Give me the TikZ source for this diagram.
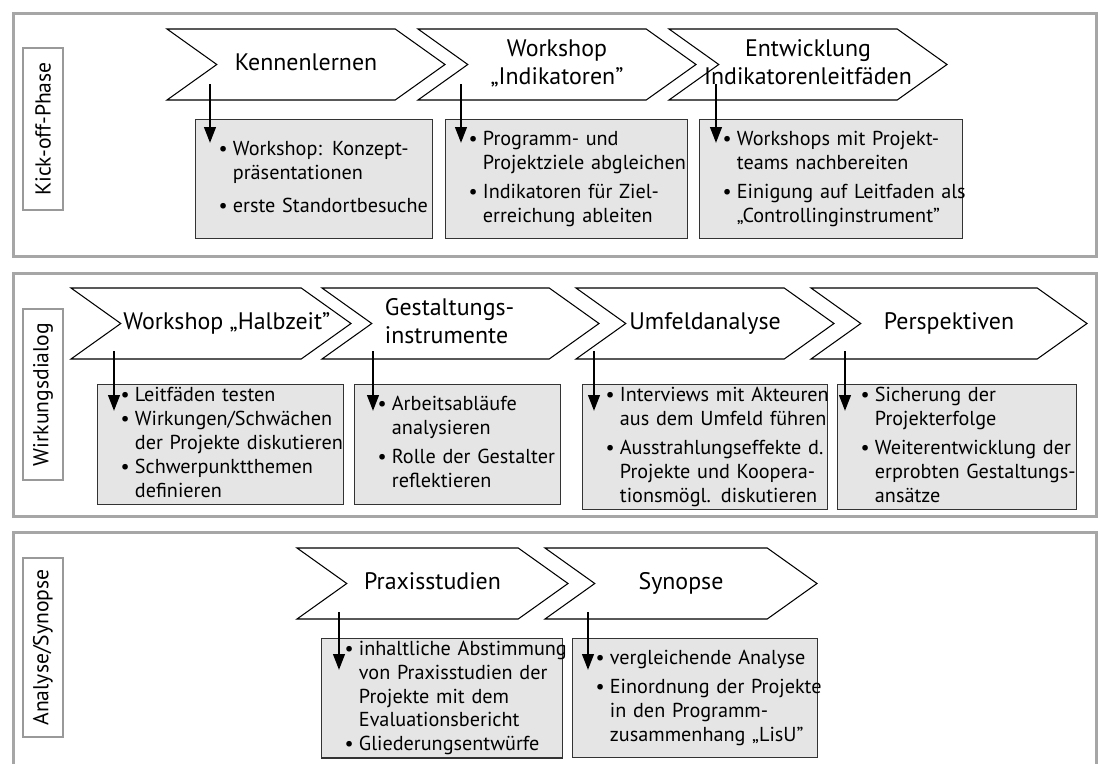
\documentclass[tikz,border=0pt]{standalone}
\usepackage{fontspec}
\setmainfont{PT Sans}
\usepackage{tikz}
\usetikzlibrary{arrows.meta,shapes.symbols,calc,positioning}

\newcommand{\pxu}{0.02cm}
\newlength{\einzug}
\setlength{\einzug}{0.46cm}
\newcommand{\liste}[1]{\begin{tabular}{@{\hspace{\einzug}}l@{\hspace{3pt}}l@{}}#1\end{tabular}}
\newcommand{\titel}[1]{\makebox[0pt]{\begin{tabular}{@{}c@{}}#1\end{tabular}}}

\begin{document}
\begin{tikzpicture}[x=0.02cm,y=-0.02cm,
rahmen/.style={draw=black!35, line width=1.7pt, anchor=north west, inner sep=0pt},
phase/.style={draw=black!40, line width=1pt, fill=white, rotate=90, minimum height=40*\pxu, inner sep=0pt, font=\fontsize{12.3}{15}\selectfont},
etappe/.style={signal, signal to=east, signal from=west, signal pointer angle=71, draw=black, line width=0.6pt, fill=white, minimum height=71*\pxu, inner sep=0pt, font=\fontsize{13.6}{16}\selectfont},
inhalt/.style={draw=black!80, line width=0.6pt, fill=black!10, anchor=north west, inner sep=0pt, align=left, font=\fontsize{11.5}{13.6}\selectfont},
pfeil/.style={-{Triangle[length=9pt,width=6.5pt]}, line width=1.4pt}]
\clip (0,0) rectangle (1100,764);

% Rahmen der drei Phasen
\node[rahmen, minimum width=1083*\pxu, minimum height=243*\pxu] (p1) at (12,12) {};
\node[rahmen, minimum width=1083*\pxu, minimum height=243*\pxu] (p2) at (12,272) {};
\node[rahmen, minimum width=1083*\pxu, minimum height=300*\pxu] (p3) at (12,531) {};

\node[phase, minimum width=162*\pxu] (ph1) at (43,129) {Kick-off-Phase};
\node[phase, minimum width=171*\pxu] (ph2) at (43,394.5) {Wirkungsdialog};
\node[phase, minimum width=179*\pxu] (ph3) at (43,647.5) {Analyse/Synopse};

% Kick-off-Phase
\node[etappe, minimum width=278*\pxu] (k1) at (306,64.5) {\titel{Kennenlernen}};
\node[etappe, minimum width=278*\pxu] (k2) at (557,64.5) {\titel{Workshop\\„Indikatoren”}};
\node[etappe, minimum width=278*\pxu] (k3) at (808,64.5) {\titel{Entwicklung\\Indikatorenleitfäden}};

\node[inhalt, minimum width=237*\pxu, minimum height=119*\pxu, text width=237*\pxu] (b11) at (195,119)
  {\liste{• & Workshop: Konzept-\\ & präsentationen\\[5pt] • & erste Standortbesuche}};
\node[inhalt, minimum width=242*\pxu, minimum height=119*\pxu, text width=242*\pxu] (b12) at (445,119)
  {\liste{• & Programm- und\\ & Projektziele abgleichen\\[3pt] • & Indikatoren für Ziel-\\ & erreichung ableiten}};
\node[inhalt, minimum width=263*\pxu, minimum height=119*\pxu, text width=263*\pxu] (b13) at (699,119)
  {\liste{• & Workshops mit Projekt-\\ & teams nachbereiten\\[3pt] • & Einigung auf Leitfaden als\\ & „Controllinginstrument”}};

% Wirkungsdialog
\node[etappe, minimum width=280*\pxu] (w1) at (211,323.5) {\titel{\hspace*{18pt}Workshop „Halbzeit”}};
\node[etappe, minimum width=277*\pxu] (w2) at (460.5,323.5)
  {\makebox[0pt][l]{\hspace*{-43pt}\begin{tabular}{@{}l@{}}Gestaltungs-\\instrumente\end{tabular}}};
\node[etappe, minimum width=258*\pxu] (w3) at (705,323.5) {\titel{Umfeldanalyse}};
\node[etappe, minimum width=276*\pxu] (w4) at (949,323.5) {\titel{Perspektiven}};

\node[inhalt, minimum width=246*\pxu, minimum height=120*\pxu, text width=246*\pxu] (b21) at (97,384)
  {\liste{• & Leitfäden testen\\ • & Wirkungen/Schwächen\\ & der Projekte diskutieren\\ • & Schwerpunktthemen\\ & definieren}};
\node[inhalt, minimum width=206*\pxu, minimum height=120*\pxu, text width=206*\pxu] (b22) at (354,384)
  {\liste{• & Arbeitsabläufe\\ & analysieren\\[3pt] • & Rolle der Gestalter\\ & reflektieren}};
\node[inhalt, minimum width=245*\pxu, minimum height=120*\pxu, text width=245*\pxu] (b23) at (582,384)
  {\liste{• & Interviews mit Akteuren\\ & aus dem Umfeld führen\\[3pt] • & Ausstrahlungseffekte d.\\ & Projekte und Koopera-\\ & tionsmögl. diskutieren}};
\node[inhalt, minimum width=239*\pxu, minimum height=120*\pxu, text width=239*\pxu] (b24) at (837,384)
  {\liste{• & Sicherung der\\ & Projekterfolge\\[3pt] • & Weiterentwicklung der\\ & erprobten Gestaltungs-\\ & ansätze}};

% Analyse/Synopse
\node[etappe, minimum width=271*\pxu] (s1) at (432.5,583.5) {\titel{Praxisstudien}};
\node[etappe, minimum width=272*\pxu] (s2) at (681,583.5) {\titel{Synopse}};

\node[inhalt, minimum width=241*\pxu, minimum height=119*\pxu, text width=241*\pxu] (b31) at (321,638)
  {\liste{• & inhaltliche Abstimmung\\ & von Praxisstudien der\\ & Projekte mit dem\\ & Evaluationsbericht\\ • & Gliederungsentwürfe}};
\node[inhalt, minimum width=245*\pxu, minimum height=119*\pxu, text width=245*\pxu] (b32) at (572,638)
  {\liste{• & vergleichende Analyse\\[3pt] • & Einordnung der Projekte\\ & in den Programm-\\ & zusammenhang „LisU”}};

% Pfeile von den Etappen zu den Inhalten
\coordinate (a11) at (210,84);
\coordinate (a12) at (461,84);
\coordinate (a13) at (716,84);
\coordinate (a21) at (114,351);
\coordinate (a22) at (373,351);
\coordinate (a23) at (594,351);
\coordinate (a24) at (845,351);
\coordinate (a31) at (339,612);
\coordinate (a32) at (588,612);
\draw[pfeil] (a11) -- ($(a11 |- b11.north)+(0,24)$);
\draw[pfeil] (a12) -- ($(a12 |- b12.north)+(0,24)$);
\draw[pfeil] (a13) -- ($(a13 |- b13.north)+(0,24)$);
\draw[pfeil] (a21) -- ($(a21 |- b21.north)+(0,27)$);
\draw[pfeil] (a22) -- ($(a22 |- b22.north)+(0,27)$);
\draw[pfeil] (a23) -- ($(a23 |- b23.north)+(0,27)$);
\draw[pfeil] (a24) -- ($(a24 |- b24.north)+(0,27)$);
\draw[pfeil] (a31) -- ($(a31 |- b31.north)+(0,32)$);
\draw[pfeil] (a32) -- ($(a32 |- b32.north)+(0,32)$);
\end{tikzpicture}
\end{document}
